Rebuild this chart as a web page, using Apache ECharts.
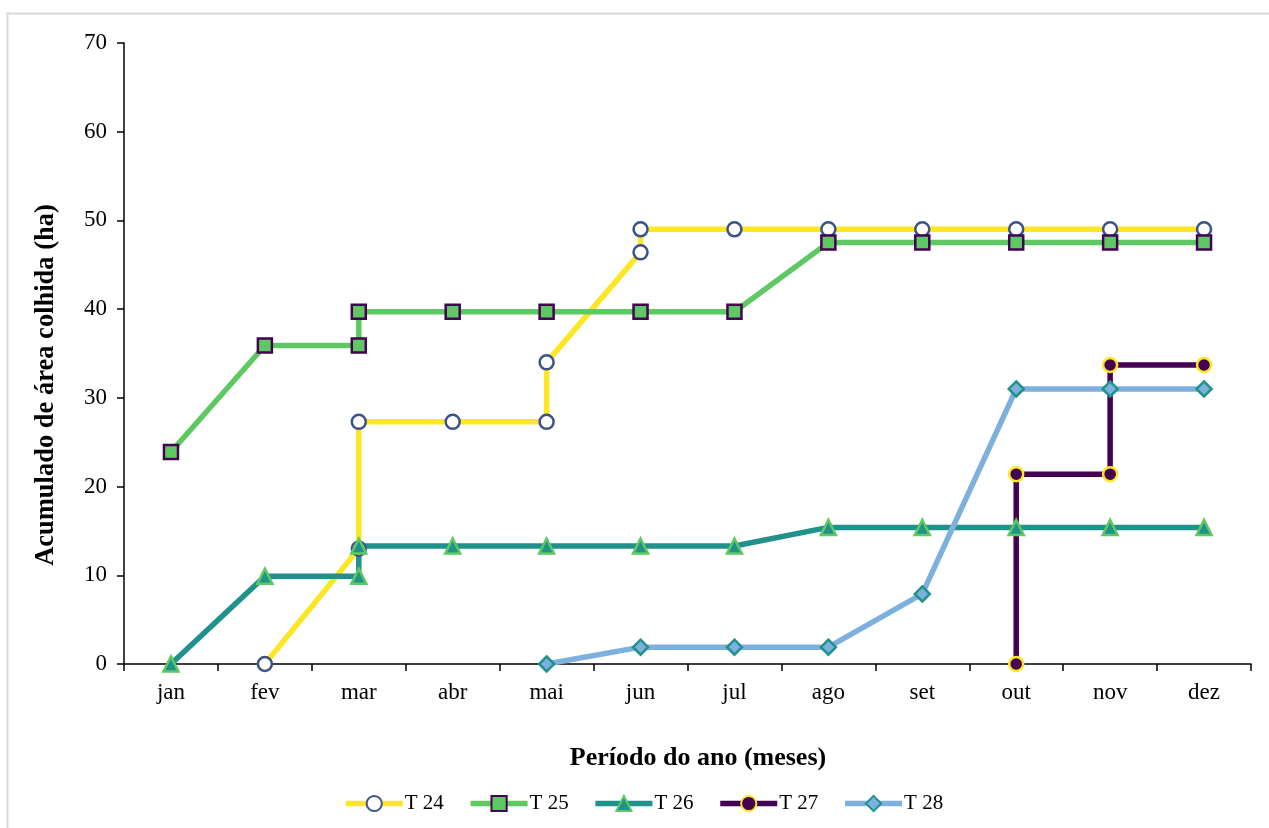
<!DOCTYPE html>
<html>
<head>
<meta charset="utf-8">
<script src="https://cdn.jsdelivr.net/npm/echarts@6/dist/echarts.min.js"></script>
<style>
  html, body { margin: 0; padding: 0; background: #fff; }
  #chart { width: 1269px; height: 828px; }
</style>
</head>
<body>
<div id="chart"></div>
<script>
// Months of the year
const months = ['jan', 'fev', 'mar', 'abr', 'mai', 'jun', 'jul', 'ago', 'set', 'out', 'nov', 'dez'];
const yTicks = [0, 10, 20, 30, 40, 50, 60, 70];

// Cumulative harvested area (ha) per treatment: [month, value]
const t24 = [['fev', 0], ['mar', 13.0], ['mar', 27.3], ['abr', 27.3], ['mai', 27.3], ['mai', 34.0],
             ['jun', 46.4], ['jun', 49.0], ['jul', 49.0], ['ago', 49.0], ['set', 49.0], ['out', 49.0],
             ['nov', 49.0], ['dez', 49.0]];
const t25 = [['jan', 23.9], ['fev', 35.9], ['mar', 35.9], ['mar', 39.7], ['abr', 39.7], ['mai', 39.7],
             ['jun', 39.7], ['jul', 39.7], ['ago', 47.5], ['set', 47.5], ['out', 47.5], ['nov', 47.5],
             ['dez', 47.5]];
const t26 = [['jan', 0], ['fev', 9.9], ['mar', 9.9], ['mar', 13.3], ['abr', 13.3], ['mai', 13.3],
             ['jun', 13.3], ['jul', 13.3], ['ago', 15.4], ['set', 15.4], ['out', 15.4], ['nov', 15.4],
             ['dez', 15.4]];
const t27 = [['out', 0], ['out', 21.4], ['nov', 21.4], ['nov', 33.7], ['dez', 33.7]];
const t28 = [['mai', 0], ['jun', 1.9], ['jul', 1.9], ['ago', 1.9], ['set', 7.9], ['out', 31.0],
             ['nov', 31.0], ['dez', 31.0]];

const xTitle = 'Período do ano (meses)';
const yTitle = 'Acumulado de área colhida (ha)';

const FONT = '"Liberation Serif", "Times New Roman", serif';

function makeSeries(name, data, lineColor, symbol, fill, border, size) {
  return {
    name: name,
    type: 'line',
    data: data,
    symbol: symbol,
    symbolSize: size,
    showAllSymbol: true,
    lineStyle: { color: lineColor, width: 5.5 },
    itemStyle: { color: fill, borderColor: border, borderWidth: 2.5 },
    emphasis: { disabled: true },
    animation: false
  };
}

const chart = echarts.init(document.getElementById('chart'), null, { renderer: 'canvas' });
chart.setOption({
  backgroundColor: '#ffffff',
  animation: false,
  graphic: [
    {
      type: 'rect',
      shape: { x: 7.5, y: 13.5, width: 1300, height: 900 },
      style: { fill: 'none', stroke: '#d9d9d9', lineWidth: 2 },
      silent: true
    },
    {
      type: 'text',
      x: 698, y: 758,
      style: { text: xTitle, font: 'bold 26px ' + FONT, fill: '#000', align: 'center', verticalAlign: 'middle' },
      silent: true
    },
    {
      type: 'text',
      x: 46, y: 385,
      rotation: Math.PI / 2,
      style: { text: yTitle, font: 'bold 26.5px ' + FONT, fill: '#000', align: 'center', verticalAlign: 'middle' },
      silent: true
    }
  ],
  grid: { left: 124, right: 18, top: 43, bottom: 164, containLabel: false },
  legend: {
    top: 788,
    left: 338,
    itemWidth: 57,
    itemHeight: 19,
    itemGap: 24,
    lineStyle: { width: 5.5 },
    textStyle: { fontFamily: FONT, fontSize: 21, color: '#000', padding: [0, 0, 0, -3] },
    data: ['T 24', 'T 25', 'T 26', 'T 27', 'T 28']
  },
  xAxis: {
    type: 'category',
    data: months,
    boundaryGap: true,
    axisLine: { lineStyle: { color: '#000', width: 1.5 } },
    axisTick: { show: true, inside: false, length: 7, lineStyle: { color: '#000', width: 1.5 } },
    axisLabel: { fontFamily: FONT, fontSize: 23, color: '#000', margin: 17 },
    splitLine: { show: false }
  },
  yAxis: {
    type: 'value',
    min: yTicks[0],
    max: yTicks[yTicks.length - 1],
    interval: 10,
    axisLine: { show: true, lineStyle: { color: '#000', width: 1.5 } },
    axisTick: { show: true, inside: false, length: 7, lineStyle: { color: '#000', width: 1.5 } },
    axisLabel: { fontFamily: FONT, fontSize: 23, color: '#000', margin: 17 },
    splitLine: { show: false }
  },
  series: [
    makeSeries('T 24', t24, '#FDE725', 'circle', '#ffffff', '#3B528B', 14),
    makeSeries('T 25', t25, '#5EC962', 'rect', '#5EC962', '#440154', 14),
    makeSeries('T 26', t26, '#21918C', 'triangle', '#21918C', '#5EC962', 15),
    makeSeries('T 27', t27, '#440154', 'circle', '#440154', '#FDE725', 14),
    makeSeries('T 28', t28, '#7EB0DE', 'diamond', '#7EB0DE', '#21918C', 15)
  ]
});
</script>
</body>
</html>
